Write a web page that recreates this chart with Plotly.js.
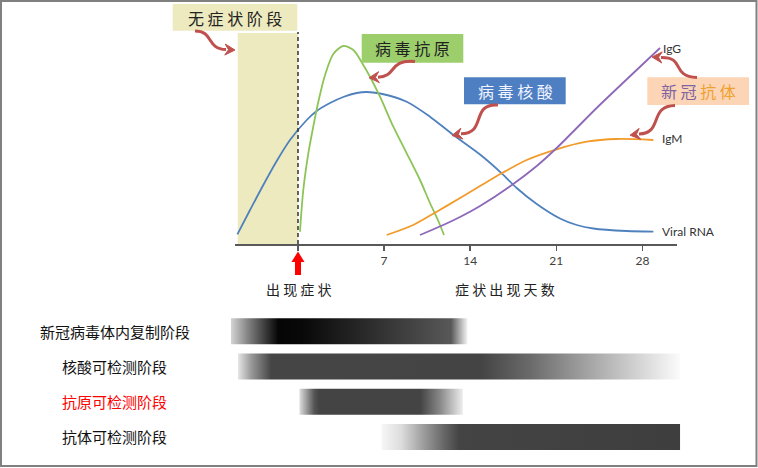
<!DOCTYPE html>
<html>
<head>
<meta charset="utf-8">
<script src="https://cdn.plot.ly/plotly-3.0.1.min.js"></script>
<style>
html, body {margin:0; padding:0; background:#fff;}
#chart {width:758px; height:468px;}
</style>
</head>
<body>
<div id="chart"></div>
<script>
// days since symptom onset, relative level
var rnaDays = [-4.93,-3.9,-2.82,-1.73,-0.65,0.71,1.52,2.6,3.68,4.77,5.59,6.67,8.84,10.73,12.63,14.8,16.56,17.78,19.41,21.3,22.66,24.01,26.72,28.89];
var rnaLevel = [9.7,34,59,83,104,124,133,141,147,151,152,150.5,142.3,127.3,109,89.5,70.7,56,40,25.5,19,15.5,13,12.3];
var antigenDays = [0.16,0.43,0.84,1.24,1.65,2.2,2.87,3.68,4.5,5.31,5.85,6.67,7.75,8.84,9.92,10.73,11.41,11.87];
var antigenLevel = [12.3,54,90.7,117.3,142,169,190,198,194,179,167.3,147.3,117.3,90.7,64,41,23,9];
var igmDays = [7.21,9.37,11.28,12.9,14.8,16.56,18.59,21.03,23.47,25.91,28.89];
var igmLevel = [9,19,32.3,44,58,70.7,84,94.7,102.3,105,104];
var iggDays = [9.92,11.81,13.17,14.8,17.5,19.41,21.03,22.66,24.28,29.43];
var iggLevel = [9,19,27,38,60,78,96,116,136,196];

var tickDays = [0,7,14,21,28];
var tickText = ['','7','14','21','28'];

var asymptomaticStart = -4.9;
var symptomOnset = 0;

var stageNames = ['新冠病毒体内复制阶段','核酸可检测阶段','抗原可检测阶段','抗体可检测阶段'];
var stageStart = [-5.45,-4.88,0.12,6.8];
var stageEnd = [13.79,31.06,13.4,31.06];

var W = 758, H = 468;
var day0 = 298, pxDay = 12.3;
function fx(x){ return x / W; }
function fy(y){ return 1 - y / H; }
// pixel path -> paper path
function pp(s){
    var t = s.trim().split(/[\s,]+/);
    var out = [];
    var isX = true;
    for (var i = 0; i < t.length; i++)
    {
        if (/^[A-Za-z]$/.test(t[i])) { out.push(t[i]); isX = true; }
        else
        {
            var v = parseFloat(t[i]);
            out.push(isX ? fx(v).toFixed(5) : fy(v).toFixed(5));
            isX = !isX;
        }
    }
    return out.join(' ');
}
function head(fromX, fromY, tipX, tipY){
    var dx = tipX - fromX, dy = tipY - fromY;
    var L = Math.sqrt(dx*dx + dy*dy);
    var ux = dx / L, uy = dy / L, nx = -uy, ny = ux;
    var bx = tipX - 10*ux, by = tipY - 10*uy;
    var mx = tipX - 6.5*ux, my = tipY - 6.5*uy;
    return 'M ' + tipX + ' ' + tipY + ' L ' + (bx + 5.5*nx) + ' ' + (by + 5.5*ny) +
        ' L ' + mx + ' ' + my + ' L ' + (bx - 5.5*nx) + ' ' + (by - 5.5*ny) + ' Z';
}

var traces = [];
function curve(x, y, color){
    return {x:x, y:y, type:'scatter', mode:'lines', line:{color:color, width:1.8, shape:'spline', smoothing:0.8}, hoverinfo:'skip'};
}
traces.push(curve(rnaDays, rnaLevel, '#4f81bd'));
traces.push(curve(antigenDays, antigenLevel, '#8dc456'));
traces.push(curve(igmDays, igmLevel, '#f29b2a'));
traces.push(curve(iggDays, iggLevel, '#8e68b8'));

var barScales = [
    [[0,'#d4d4d4'],[0.08,'#7a7a7a'],[0.2,'#050505'],[0.3,'#080808'],[0.6,'#2e2e2e'],[0.93,'#585858'],[1,'#f6f6f6']],
    [[0,'#e6e6e6'],[0.03,'#999999'],[0.075,'#454545'],[0.55,'#444444'],[0.66,'#6a6a6a'],[0.77,'#9a9a9a'],[0.88,'#c9c9c9'],[1,'#fbfbfb']],
    [[0,'#dddddd'],[0.09,'#555555'],[0.12,'#444444'],[0.74,'#444444'],[0.86,'#888888'],[1,'#eeeeee']],
    [[0,'#f6f6f6'],[0.065,'#dddddd'],[0.145,'#999999'],[0.21,'#666666'],[0.26,'#444444'],[1,'#3e3e3e']]
];
var hb = 0.37;
for (var i = 0; i < stageNames.length; i++)
{
    var a = stageStart[i], b = stageEnd[i];
    traces.push({
        x:[a,b,b,a,a], y:[i-hb,i-hb,i+hb,i+hb,i-hb],
        xaxis:'x2', yaxis:'y2', type:'scatter', mode:'lines',
        line:{width:0}, fill:'toself',
        fillgradient:{type:'horizontal', start:a, stop:b, colorscale:barScales[i]},
        hoverinfo:'skip'
    });
}

var red = '#c0504d';
var shapes = [
    {type:'rect', xref:'x', yref:'y', x0:asymptomaticStart, x1:symptomOnset, y0:0, y1:211, fillcolor:'#eeeabf', line:{width:0}, layer:'below'},
    {type:'line', xref:'x', yref:'y', x0:symptomOnset, x1:symptomOnset, y0:0, y1:212, line:{color:'#333333', width:1.5, dash:'4px,3px'}},
    {type:'rect', xref:'paper', yref:'paper', x0:fx(172.7), x1:fx(297.3), y0:fy(30.7), y1:fy(4), fillcolor:'#eeeabf', line:{width:0}},
    {type:'rect', xref:'paper', yref:'paper', x0:fx(361.7), x1:fx(463.3), y0:fy(62.7), y1:fy(34), fillcolor:'#9ccf6c', line:{width:0}},
    {type:'rect', xref:'paper', yref:'paper', x0:fx(464), x1:fx(565.7), y0:fy(104.3), y1:fy(77.3), fillcolor:'#4e7fc2', line:{width:0}},
    {type:'rect', xref:'paper', yref:'paper', x0:fx(647.3), x1:fx(749), y0:fy(105), y1:fy(77.3), fillcolor:'#fbd5b5', line:{width:0}},
    {type:'rect', xref:'paper', yref:'paper', x0:fx(1), x1:fx(756.5), y0:fy(466), y1:fy(1), line:{color:'#808080', width:2}}
];
// curly red arrows: [path, last control x, y, tip x, y]
var arrows = [
    ['M 195 31 C 214 31 206 49 226 49.6', 226, 49.6, 235, 50],
    ['M 415 61.5 C 388 59 397 77 378 77.2', 378, 77.2, 369, 77.8],
    ['M 498 105 C 470 103 487 134 461 133.8', 461, 133.8, 452, 135.5],
    ['M 697 77.5 C 670 76 686 57 661 57.4', 661, 57.4, 652, 57],
    ['M 675 105.5 C 648 106 664 133 639 134', 639, 134, 630, 135.2]
];
arrows.forEach(function(ar){
    shapes.push({type:'path', xref:'paper', yref:'paper', path:pp(ar[0]), line:{color:red, width:3}});
    shapes.push({type:'path', xref:'paper', yref:'paper', path:pp(head(ar[1], ar[2], ar[3], ar[4])), fillcolor:red, line:{color:red, width:1}});
});
// red up arrow under day 0
var hw = 6.5 / pxDay, sw = 3 / pxDay;
shapes.push({type:'path', xref:'x', yref:'paper', fillcolor:'#ff0000', line:{width:0},
    path:'M ' + symptomOnset + ' ' + fy(251.5) + ' L ' + (symptomOnset + hw) + ' ' + fy(262) + ' L ' + (symptomOnset + sw) + ' ' + fy(262) +
        ' L ' + (symptomOnset + sw) + ' ' + fy(275) + ' L ' + (symptomOnset - sw) + ' ' + fy(275) + ' L ' + (symptomOnset - sw) + ' ' + fy(262) +
        ' L ' + (symptomOnset - hw) + ' ' + fy(262) + ' Z'});

var cjk = 'Noto Sans CJK SC';
function note(text, x, y, size, color, anchor){
    return {text:text, xref:'paper', yref:'paper', x:fx(x), y:fy(y), xanchor:anchor || 'center', yanchor:'middle',
        showarrow:false, font:{family:cjk, size:size, color:color || '#222222'}};
}
var annotations = [
    note('无 症 状 阶 段', 235, 18, 16),
    note('病 毒 抗 原', 412.5, 48.5, 16),
    note('病 毒 核 酸', 515, 91, 16, '#f2f4ff'),
    note('<span style="color:#8064a2">新 冠</span> <span style="color:#f0a030">抗 体</span>', 698, 91.5, 16),
    note('症 状 出 现 天 数', 505, 288.5, 14),
    {text:'出 现 症 状', xref:'x', yref:'paper', x:symptomOnset, y:fy(288.5), xanchor:'center', yanchor:'middle', showarrow:false, font:{family:cjk, size:14, color:'#222222'}},
    {text:'Viral RNA', xref:'paper', yref:'paper', x:fx(660), y:fy(231.5), xanchor:'left', yanchor:'middle', showarrow:false, font:{family:'Lato', size:12, color:'#333333'}},
    {text:'IgG', xref:'paper', yref:'paper', x:fx(661), y:fy(49), xanchor:'left', yanchor:'middle', showarrow:false, font:{family:'Lato', size:12, color:'#333333'}},
    {text:'IgM', xref:'paper', yref:'paper', x:fx(660), y:fy(138.5), xanchor:'left', yanchor:'middle', showarrow:false, font:{family:'Lato', size:12, color:'#333333'}}
];
for (var j = 0; j < stageNames.length; j++)
{
    annotations.push({text:stageNames[j], xref:'paper', yref:'y2', x:fx(114.5), y:j, xanchor:'center', yanchor:'middle',
        showarrow:false, font:{family:cjk, size:15, color: j == 2 ? '#ff0000' : '#111111'}});
}

var layout = {
    width:W, height:H,
    margin:{l:0, r:0, t:0, b:0},
    paper_bgcolor:'#ffffff', plot_bgcolor:'rgba(0,0,0,0)',
    showlegend:false,
    font:{family:cjk, color:'#222222'},
    xaxis:{domain:[235/W, 677/W], range:[(235-day0)/pxDay, (677-day0)/pxDay], showgrid:false, zeroline:false,
        showline:true, linecolor:'#595959', linewidth:1.5, ticks:'outside', ticklen:5, tickwidth:1.5, tickcolor:'#595959',
        tickmode:'array', tickvals:tickDays, ticktext:tickText, tickfont:{family:'Lato', size:12, color:'#404040'}},
    yaxis:{domain:[1-244/H, 1], range:[0,244], visible:false},
    xaxis2:{domain:[0,1], range:[(0-day0)/pxDay, (W-day0)/pxDay], visible:false, anchor:'y2'},
    yaxis2:{domain:[1-454.5/H, 1-313.7/H], range:[3.5,-0.5], visible:false, anchor:'x2'},
    shapes:shapes,
    annotations:annotations
};

Plotly.newPlot('chart', traces, layout, {displayModeBar:false, staticPlot:true});
</script>
</body>
</html>
